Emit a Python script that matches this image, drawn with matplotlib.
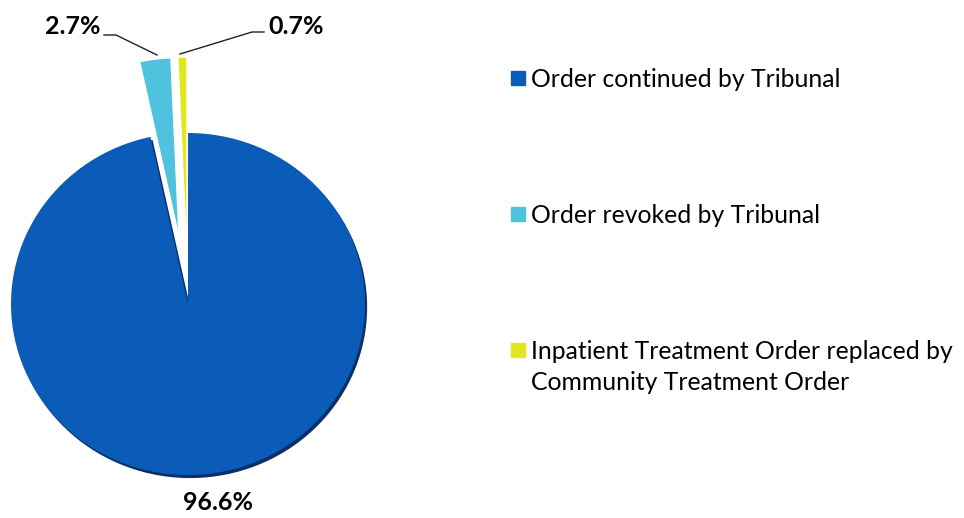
import matplotlib.pyplot as plt

# Share of tribunal outcomes
labels = ["Order continued by Tribunal",
          "Order revoked by Tribunal",
          "Inpatient Treatment Order replaced by\nCommunity Treatment Order"]
shares = [96.6, 2.7, 0.7]
pct_labels = ["96.6%", "2.7%", "0.7%"]
colors = ["#0a5cb8", "#4fc3de", "#e2e61e"]
explode = [0.0, 0.44, 0.44]

plt.rcParams["font.family"] = ["Lato", "DejaVu Sans"]

fig = plt.figure(figsize=(9.64, 5.18), dpi=100)
ax = fig.add_axes([0, 0, 376 / 964, 1])

# pixel scale of the disc (slightly wider than tall, as in the original)
SX, SY = 177, 171
CX, CY = 188, 304

# shadow under the main disc
ax.pie(shares[:1] + [100 - shares[0]], colors=["#0b2f66", "none"],
       startangle=90, counterclock=False, center=(0.012, -0.018),
       radius=1.0, wedgeprops=dict(linewidth=0))
wedges, _ = ax.pie(shares, colors=colors, explode=explode, startangle=90,
                   counterclock=False, radius=1.0,
                   wedgeprops=dict(linewidth=0))


def px(x, y):
    # pixel position of the original image -> data coordinates
    return (x - CX) / SX, (CY - y) / SY


ax.text(*px(218, 503), pct_labels[0], ha="center", va="center",
        fontsize=18, fontweight="bold")
ax.text(*px(73, 27), pct_labels[1], ha="center", va="center",
        fontsize=18, fontweight="bold")
ax.text(*px(296, 27), pct_labels[2], ha="center", va="center",
        fontsize=18, fontweight="bold")
ax.plot(*zip(px(104, 35), px(116, 35), px(157, 55)), color="#222", lw=1)
ax.plot(*zip(px(264, 32), px(252, 32), px(180, 54)), color="#222", lw=1)

ax.set_xlim(-CX / SX, (376 - CX) / SX)
ax.set_ylim(-(518 - CY) / SY, CY / SY)
ax.set_aspect("auto")
ax.axis("off")

# legend drawn by hand to keep the wide spacing
leg_y = [78, 214, 350]
for lab, col, y in zip(labels, colors, leg_y):
    fig.patches.append(plt.Rectangle((511 / 964, 1 - (y + 7) / 518),
                                     14 / 964, 14 / 518, color=col,
                                     transform=fig.transFigure))
    fig.text(531 / 964, 1 - (y - 10) / 518, lab, ha="left", va="top",
             fontsize=17.8, linespacing=1.4)

fig.savefig("out.png", dpi=100)
